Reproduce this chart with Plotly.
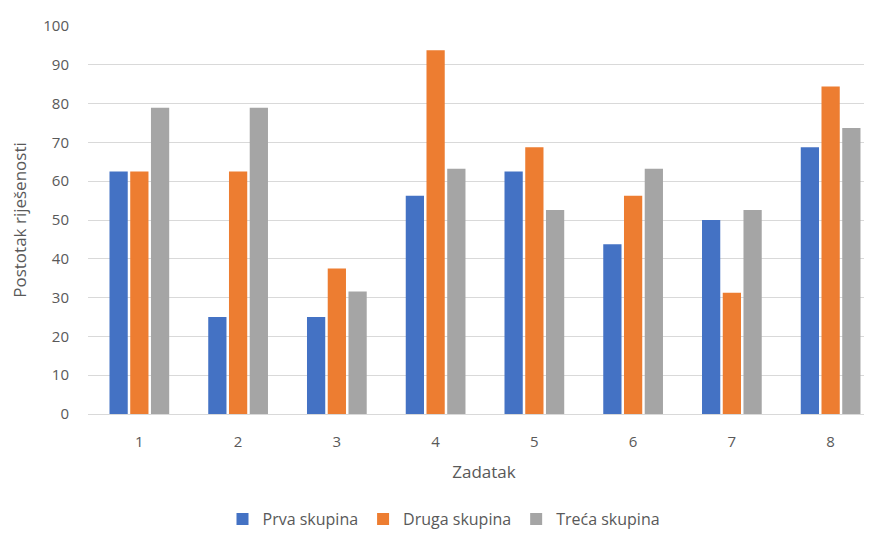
import plotly.graph_objects as go

zadaci = [1, 2, 3, 4, 5, 6, 7, 8]
prva = [62.5, 25, 25, 56.25, 62.5, 43.75, 50, 68.75]
druga = [62.5, 62.5, 37.5, 93.75, 68.75, 56.25, 31.25, 84.4]
treca = [78.9, 78.9, 31.6, 63.2, 52.6, 63.2, 52.6, 73.7]
names = ["Prva skupina", "Druga skupina", "Treća skupina"]
colors = ["#4472C4", "#ED7D31", "#A5A5A5"]

fig = go.Figure()
for name, vals, c in zip(names, [prva, druga, treca], colors):
    fig.add_trace(go.Bar(x=zadaci, y=vals, name=name, marker_color=c, marker_line_width=0))

font = dict(family="Open Sans, Lato, sans-serif", color="#595959", size=15)
fig.update_layout(
    width=872, height=539,
    margin=dict(l=80, r=0, t=18, b=133),
    paper_bgcolor="white", plot_bgcolor="white",
    barmode="group", bargap=0.37, bargroupgap=0.12,
    font=font,
    legend=dict(orientation="h", xref="container", x=0.5, xanchor="center",
                yref="container", y=0.02, yanchor="bottom",
                font=dict(size=16, color="#595959"), traceorder="normal",
                itemwidth=30, tracegroupgap=0),
    xaxis=dict(tickmode="array", tickvals=zadaci, ticktext=[str(z) for z in zadaci],
               range=[0.48, 8.5], showgrid=False, showline=True, linecolor="#D9D9D9",
               ticks="", ticklabelstandoff=14, automargin=False,
               title=dict(text="Zadatak", font=dict(size=17), standoff=16),
               tickfont=dict(size=15)),
    yaxis=dict(range=[0, 100], dtick=10, showgrid=True, gridcolor="#D9D9D9",
               zeroline=False, ticks="", ticklabelstandoff=18, automargin=False,
               title=dict(text="Postotak riješenosti", font=dict(size=17), standoff=14),
               tickfont=dict(size=15)),
)
fig.write_html("out.html")
